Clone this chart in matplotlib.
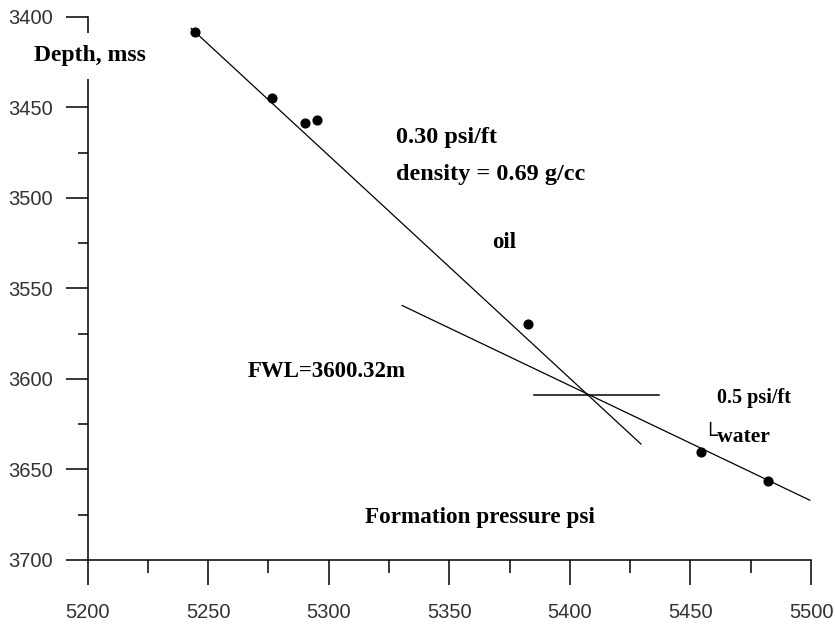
import matplotlib
matplotlib.use("Agg")
import matplotlib.pyplot as plt
from matplotlib.ticker import MultipleLocator

# measured points (formation pressure psi vs depth mss)
pressure = [5244.5, 5276.3, 5290.1, 5295.0, 5382.5, 5454.5, 5482.2]
depth = [3408.3, 3445.1, 3458.6, 3457.1, 3569.7, 3640.5, 3656.5]

# gradient lines
oil_p = [5243.0, 5429.5]
oil_d = [3406.5, 3636.0]
water_p = [5330.5, 5499.5]
water_d = [3559.5, 3667.0]
fwl_p = [5385.0, 5437.0]
fwl_d = [3609.0, 3609.0]

serif = ["Liberation Serif", "DejaVu Serif"]
sans = ["Liberation Sans", "DejaVu Sans"]

fig = plt.figure(figsize=(8.35, 6.27), dpi=100)
ax = fig.add_axes([0.1048, 0.1069, 0.8665, 0.8665])

ax.plot(oil_p, oil_d, color="black", lw=0.9)
ax.plot(water_p, water_d, color="black", lw=0.9)
ax.plot(fwl_p, fwl_d, color="black", lw=1.1)
ax.plot(pressure, depth, "o", color="black", ms=6.3, ls="none")

ax.set_xlim(5200, 5500)
ax.set_ylim(3700, 3400)

for s in ["top", "right"]:
    ax.spines[s].set_visible(False)
for s in ["left", "bottom"]:
    ax.spines[s].set_linewidth(1.1)

ax.xaxis.set_major_locator(MultipleLocator(50))
ax.xaxis.set_minor_locator(MultipleLocator(25))
ax.yaxis.set_major_locator(MultipleLocator(50))
ax.yaxis.set_minor_locator(MultipleLocator(25))

ax.tick_params(axis="x", which="major", direction="out", length=18, width=1.1, pad=13)
ax.tick_params(axis="x", which="minor", direction="out", length=9.4, width=1.1)
ax.tick_params(axis="y", which="major", direction="out", length=15.8, width=1.1, pad=9)
ax.tick_params(axis="y", which="minor", direction="out", length=7.2, width=1.1)

for lab in ax.get_xticklabels() + ax.get_yticklabels():
    lab.set_family(sans)
    lab.set_fontsize(14.5)
    lab.set_color("#333333")

# annotations
ax.text(5201, 3421.5, "Depth, mss", family=serif, fontweight="bold", fontsize=17,
        ha="center", va="center", zorder=5, clip_on=False,
        bbox=dict(facecolor="white", edgecolor="none", pad=9))
ax.text(5327.8, 3466.5, "0.30 psi/ft", family=serif, fontweight="bold", fontsize=17.5,
        ha="left", va="center")
ax.text(5327.8, 3487, "density = 0.69 g/cc", family=serif, fontweight="bold", fontsize=17.5,
        ha="left", va="center")
ax.text(5372.6, 3524.5, "oil", family=serif, fontweight="bold", fontsize=16.5,
        ha="center", va="center")
ax.text(5266.5, 3596.0, "FWL=3600.32m", family=serif, fontweight="bold", fontsize=16.5,
        ha="left", va="center")
ax.text(5460.9, 3610.5, "0.5 psi/ft", family=serif, fontweight="bold", fontsize=14.5,
        ha="left", va="center")
ax.text(5455.0, 3632.3, "\u2514water", family=serif, fontweight="bold", fontsize=15.5,
        ha="left", va="center")
ax.text(5362.6, 3676.4, "Formation pressure psi", family=serif, fontweight="bold", fontsize=16.7,
        ha="center", va="center")

fig.savefig("out.png", dpi=100)
